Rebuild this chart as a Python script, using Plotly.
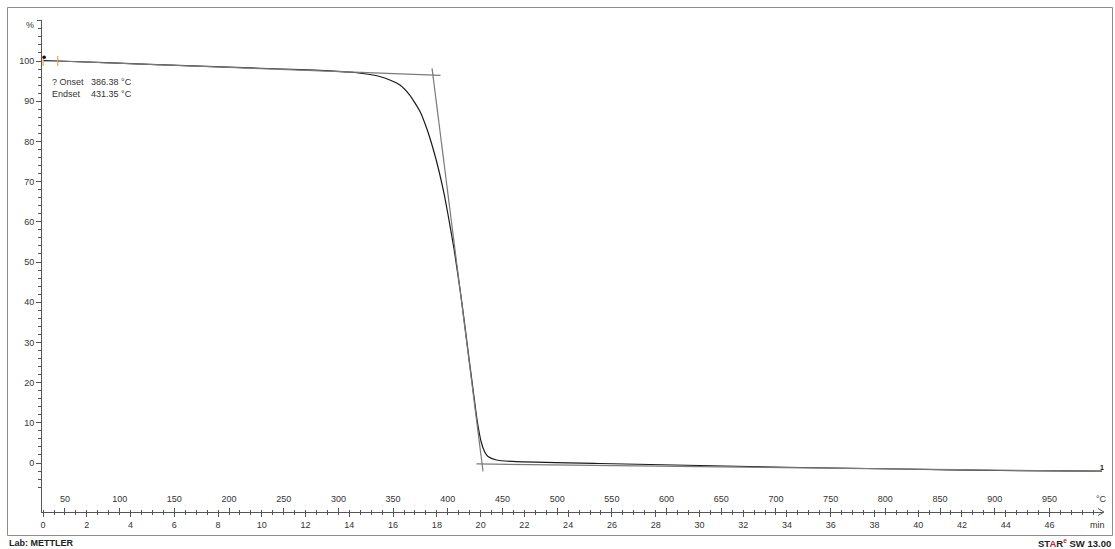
import plotly.graph_objects as go

# ---- data ----
# TGA curve: time (min) vs mass (%)
time_min = [0.0, 0.67, 4.88, 9.45, 11.73, 13.10, 14.25, 14.94, 15.39, 15.85,
            16.31, 16.76, 17.22, 17.546, 17.831, 18.108, 18.35, 18.505, 18.793,
            19.127, 19.42, 19.675, 19.845, 20.027, 20.187, 20.338, 20.722,
            21.64, 25.44, 30.01, 34.58, 39.15, 43.72, 48.40]
mass_pct = [100.1, 100.0, 99.18, 98.28, 97.86, 97.56, 97.14, 96.64, 96.14, 95.27,
            94.03, 91.54, 87.56, 83.08, 78.11, 72.39, 66.42, 61.94, 52.99,
            40.55, 28.11, 17.41, 10.45, 5.22, 2.74, 1.62, 0.75,
            0.32, -0.12, -0.62, -1.12, -1.49, -1.87, -2.0]

# tangent lines for onset / endset evaluation (temperature in °C vs mass %)
tan_upper_T = [43.4, 393.3]
tan_upper_w = [100.0, 96.43]
tan_steep_T = [385.6, 432.2]
tan_steep_w = [98.18, -2.08]
tan_lower_T = [426.2, 997.0]
tan_lower_w = [-0.23, -2.1]

# evaluation limits (red marks) and start point
limit_t = [0.0, 0.67]
limit_w = [100.0, 100.0]
start_t = [0.05]
start_w = [100.92]

onset_label = "? Onset"
onset_value = "386.38 °C"
endset_label = "Endset"
endset_value = "431.35 °C"

time_ticks = list(range(0, 47, 2))
temp_ticks = list(range(50, 951, 50))
mass_ticks = list(range(-10, 101, 10))

# axis ranges
t_range = [-0.05, 48.45]
T_range = [30 + 20 * t_range[0], 30 + 20 * t_range[1]]
w_range = [-12.19, 110.2]

# ---- layout helpers (pixel -> paper) ----
L, R, T, B = 42, 1103, 20, 512
W, H = R - L, B - T
def px(x):
    return (x - L) / W
def py(y):
    return (B - y) / H

FONT = "Liberation Sans"
AX = "#555555"
TXT = "#333333"

fig = go.Figure()
for tx, tw in [(tan_upper_T, tan_upper_w), (tan_steep_T, tan_steep_w), (tan_lower_T, tan_lower_w)]:
    fig.add_trace(go.Scatter(x=tx, y=tw, xaxis="x2", yaxis="y",
                             mode="lines", line=dict(color="#7a7a7a", width=1.2),
                             showlegend=False, hoverinfo="skip"))
fig.add_trace(go.Scatter(x=time_min, y=mass_pct, mode="lines",
                         line=dict(color="#1a1a1a", width=1.2, shape="spline", smoothing=0.5),
                         showlegend=False))
fig.add_trace(go.Scatter(x=limit_t, y=limit_w, mode="markers",
                         marker=dict(symbol="line-ns-open", size=7,
                                     line=dict(color="#e53030", width=1.3)),
                         showlegend=False))
fig.add_trace(go.Scatter(x=start_t, y=start_w, mode="markers",
                         marker=dict(symbol="circle", size=3.5, color="#111111"),
                         showlegend=False))

tickfont = dict(family=FONT, size=9, color=TXT)
fig.update_layout(
    width=1115, height=549,
    margin=dict(l=L, r=1115 - R, t=T, b=549 - B),
    paper_bgcolor="white", plot_bgcolor="white",
    xaxis=dict(range=t_range, showline=True, linecolor=AX, linewidth=1,
               showgrid=False, zeroline=False,
               tickmode="array", tickvals=time_ticks, ticks="outside",
               ticklen=4, tickcolor=AX, tickwidth=1, tickfont=tickfont,
               ticklabelstandoff=0,
               minor=dict(tickmode="linear", tick0=0, dtick=0.5, ticks="outside",
                          ticklen=2, tickcolor=AX, showgrid=False)),
    xaxis2=dict(range=T_range, overlaying="x", side="bottom", anchor="y",
                showline=False, showgrid=False, zeroline=False,
                tickmode="array", tickvals=temp_ticks, ticks="inside",
                ticklen=4, tickcolor=AX, tickwidth=1, tickfont=tickfont,
                ticklabelposition="inside", ticklabelstandoff=3,
                minor=dict(tickmode="linear", tick0=0, dtick=10, ticks="inside",
                           ticklen=2, tickcolor=AX, showgrid=False)),
    yaxis=dict(range=w_range, showline=True, linecolor=AX, linewidth=1,
               showgrid=False, zeroline=False,
               tickmode="array", tickvals=mass_ticks,
               ticks="outside", ticklen=5, tickcolor=AX, tickwidth=1,
               tickfont=tickfont,
               minor=dict(tickmode="linear", tick0=0, dtick=2, ticks="outside",
                          ticklen=3, tickcolor=AX, showgrid=False)),
)

# outer frame
fig.add_shape(type="rect", xref="paper", yref="paper",
              x0=px(7.5), x1=px(1112.5), y0=py(535.5), y1=py(7.5),
              line=dict(color="#8c8c8c", width=1), fillcolor="rgba(0,0,0,0)",
              layer="below")
# end tick at the top of the y axis
fig.add_shape(type="line", xref="paper", yref="paper",
              x0=px(37), x1=px(42), y0=py(20.5), y1=py(20.5),
              line=dict(color=AX, width=1))
# axis arrow head
fig.add_shape(type="path", xref="paper", yref="paper",
              path=f"M {px(1098)} {py(508.5)} L {px(1104)} {py(512)} L {px(1098)} {py(515.5)}",
              line=dict(color=AX, width=1))

def ann(text, x, y, xanchor="left", size=9, color=TXT, bold=False, yanchor="middle"):
    fig.add_annotation(text=f"<b>{text}</b>" if bold else text,
                       xref="paper", yref="paper", x=px(x), y=py(y),
                       xanchor=xanchor, yanchor=yanchor, showarrow=False,
                       font=dict(family=FONT, size=size, color=color))

ann("%", 30, 25, xanchor="center")
ann("°C", 1101, 499, xanchor="center")
ann("min", 1097, 525, xanchor="center")
ann(onset_label, 50, 82)
ann(onset_value, 89, 82)
ann(endset_label, 50, 94.5)
ann(endset_value, 89, 94.5)
ann("Lab: METTLER", 7, 543, size=9, color="#222222", bold=True)
ann("ST<span style='color:#d42020'>A</span>R<span style='color:#d42020'><sup>e</sup></span> SW 13.00",
    1113, 543, xanchor="right", size=9.5, color="#222222", bold=True)

# curve number at the end of the curve
fig.add_annotation(text="<b>1</b>", x=time_min[-1], y=mass_pct[-1], xref="x", yref="y",
                   xanchor="center", yanchor="bottom", showarrow=False, yshift=-2,
                   font=dict(family=FONT, size=7, color="#111111"))

# the page's default body margin would shift the figure; remove it
fig.write_html("out.html", config={"displayModeBar": False},
               post_script="document.body.style.margin='0';")
